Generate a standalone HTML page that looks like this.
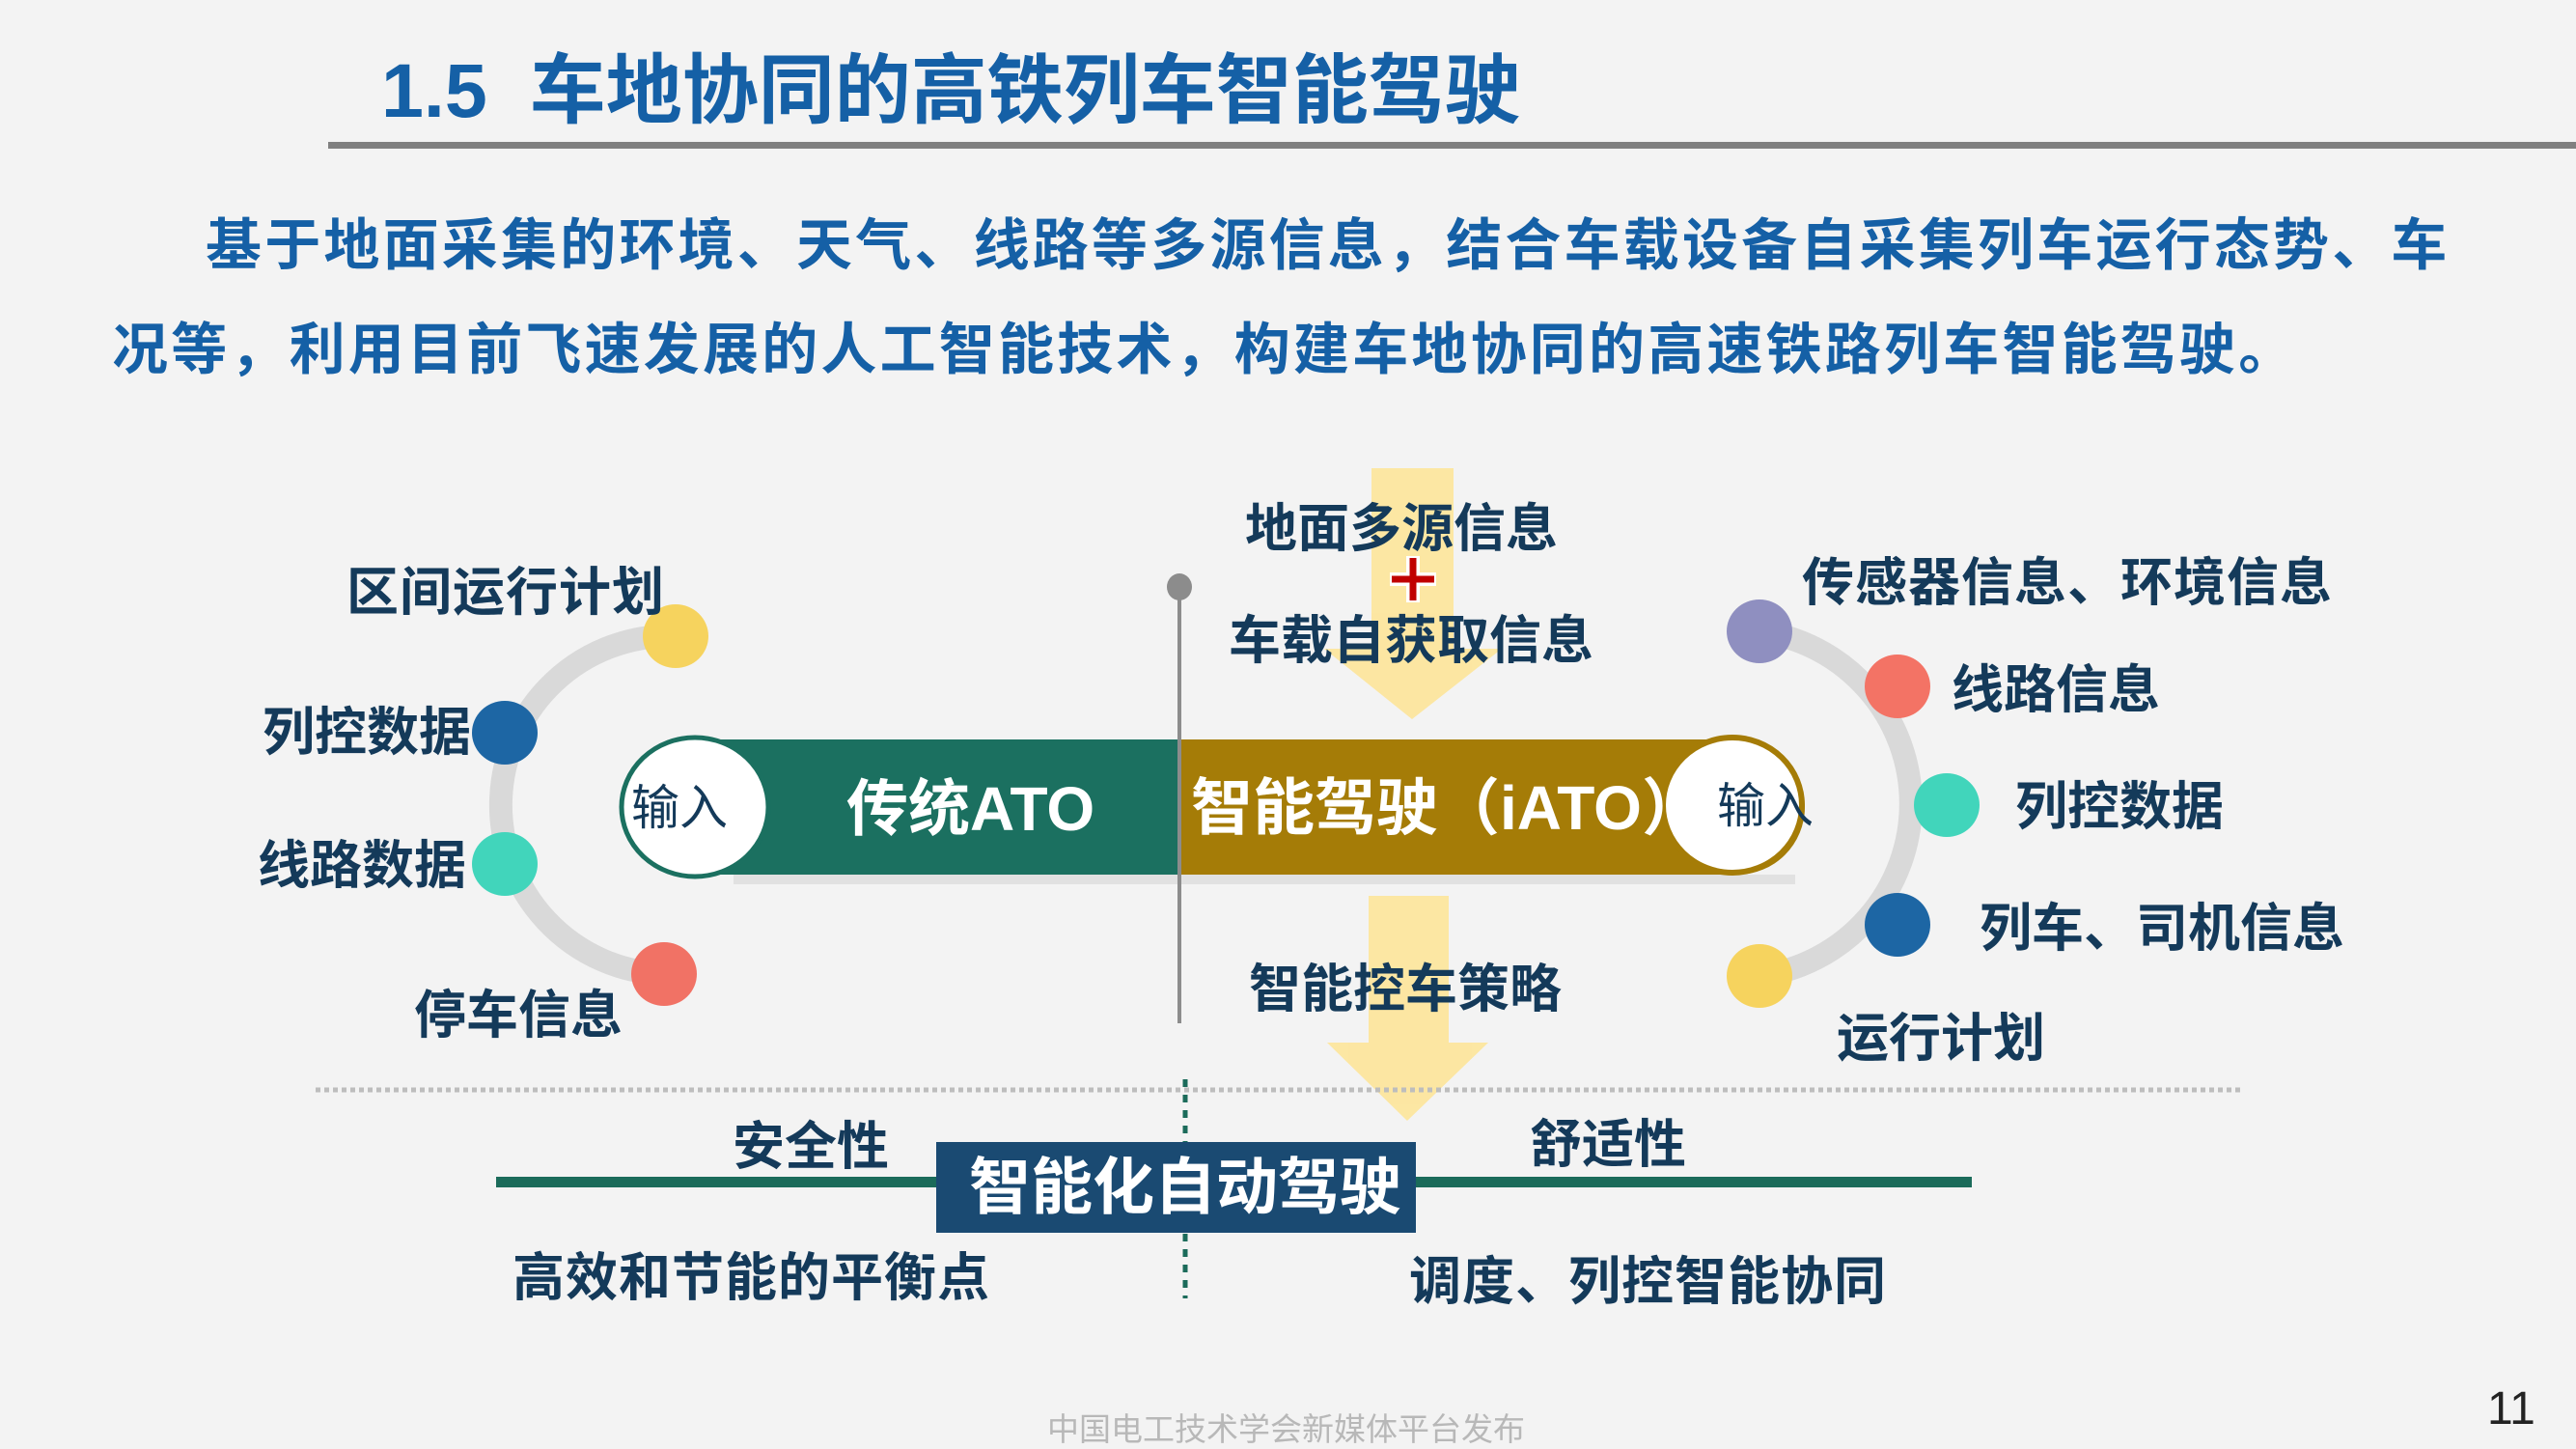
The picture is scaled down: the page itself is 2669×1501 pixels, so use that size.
<!DOCTYPE html>
<html><head><meta charset="utf-8">
<style>
html,body{margin:0;padding:0}
body{width:2669px;height:1501px;position:relative;overflow:hidden;background:#f3f3f3;font-family:"Liberation Sans","Noto Sans CJK SC",sans-serif}
.t{position:absolute;white-space:nowrap;line-height:1;font-weight:700;color:#143a5a}
svg{position:absolute;left:0;top:0}
</style></head><body>
<svg width="2669" height="1501">
<rect x="340" y="147" width="2329" height="7" fill="#808080"/>
<g fill="#fde59a" opacity="0.9">
<rect x="1421" y="485" width="85" height="190"/>
<polygon points="1372,672 1556,672 1463,745"/>
<rect x="1418" y="928" width="83" height="155"/>
<polygon points="1375,1080 1542,1080 1458,1161"/>
</g>
<path d="M700,659 A175,175 0 0 0 688,1009" fill="none" stroke="#d9d9d9" stroke-width="24"/>
<ellipse cx="700" cy="659" rx="34" ry="33" fill="#f6d35e"/>
<ellipse cx="523" cy="759" rx="34" ry="33" fill="#1d66a4"/>
<ellipse cx="523" cy="895" rx="34" ry="33" fill="#41d5bb"/>
<ellipse cx="688" cy="1009" rx="34" ry="33" fill="#f17265"/>
<path d="M1823,654 A180,180 0 0 1 1823,1011" fill="none" stroke="#d9d9d9" stroke-width="24"/>
<ellipse cx="1823" cy="654" rx="34" ry="33" fill="#8f8fc0"/>
<ellipse cx="1966" cy="711" rx="34" ry="33" fill="#f37365"/>
<ellipse cx="2017" cy="834" rx="34" ry="33" fill="#41d5bb"/>
<ellipse cx="1966" cy="958" rx="34" ry="33" fill="#1d66a4"/>
<ellipse cx="1823" cy="1011" rx="34" ry="33" fill="#f6d35e"/>
<rect x="760" y="906" width="1100" height="10" fill="#000" opacity="0.07"/>
<rect x="710" y="766" width="512" height="140" fill="#1b7060"/>
<path d="M1222,766 H1800 A70,70 0 0 1 1800,906 H1222 Z" fill="#a57c07"/>
<ellipse cx="720" cy="836" rx="76" ry="72" fill="#fff" stroke="#1b7060" stroke-width="5"/>
<ellipse cx="1795" cy="834" rx="72" ry="70" fill="#fff" stroke="#a57c07" stroke-width="6"/>
<rect x="1220" y="608" width="4" height="452" fill="#8c8c8c"/>
<ellipse cx="1222" cy="608" rx="13" ry="14" fill="#8c8c8c"/>
<g stroke="#fff" stroke-width="14"><line x1="1464" y1="576" x2="1464" y2="624"/><line x1="1440" y1="600" x2="1488" y2="600"/></g>
<g stroke="#c00000" stroke-width="7"><line x1="1464" y1="578" x2="1464" y2="622"/><line x1="1442" y1="600" x2="1486" y2="600"/></g>
<line x1="327" y1="1129" x2="2323" y2="1129" stroke="#bdbdbd" stroke-width="5" stroke-dasharray="5,4"/>
<line x1="1228" y1="1118" x2="1228" y2="1345" stroke="#1b6b5a" stroke-width="5" stroke-dasharray="8,8"/>
<rect x="514" y="1219" width="1529" height="11" fill="#1b6b5a"/>
<rect x="970" y="1183" width="497" height="94" fill="#1a4a72"/>
</svg>

<div class="t" style="left:395px;top:54px;font-size:79px;color:#1560a6">1.5&nbsp;&nbsp;车地协同的高铁列车智能驾驶</div>
<div class="t" style="left:213px;top:226px;font-size:58px;letter-spacing:3.2px;color:#1560a6">基于地面采集的环境、天气、线路等多源信息，结合车载设备自采集列车运行态势、车</div>
<div class="t" style="left:116px;top:334px;font-size:58px;letter-spacing:3.2px;color:#1560a6">况等，利用目前飞速发展的人工智能技术，构建车地协同的高速铁路列车智能驾驶。</div>

<div class="t" style="left:359px;top:587px;font-size:54px;letter-spacing:1px">区间运行计划</div>
<div class="t" style="left:272px;top:732px;font-size:54px">列控数据</div>
<div class="t" style="left:267px;top:870px;font-size:54px">线路数据</div>
<div class="t" style="left:429px;top:1025px;font-size:54px">停车信息</div>
<div class="t" style="left:1290px;top:521px;font-size:54px">地面多源信息</div>
<div class="t" style="left:1273px;top:637px;font-size:54px">车载自获取信息</div>
<div class="t" style="left:1294px;top:998px;font-size:54px">智能控车策略</div>
<div class="t" style="left:1867px;top:577px;font-size:54px;letter-spacing:1px">传感器信息、环境信息</div>
<div class="t" style="left:2022px;top:688px;font-size:54px">线路信息</div>
<div class="t" style="left:2088px;top:809px;font-size:54px">列控数据</div>
<div class="t" style="left:2051px;top:935px;font-size:54px">列车、司机信息</div>
<div class="t" style="left:1903px;top:1049px;font-size:54px">运行计划</div>
<div class="t" style="left:759px;top:1161px;font-size:54px">安全性</div>
<div class="t" style="left:1585px;top:1159px;font-size:54px">舒适性</div>
<div class="t" style="left:531px;top:1297px;font-size:54px;letter-spacing:1px">高效和节能的平衡点</div>
<div class="t" style="left:1460px;top:1301px;font-size:54px;letter-spacing:1px">调度、列控智能协同</div>
<div class="t" style="left:1004px;top:1198px;font-size:64px;color:#fff">智能化自动驾驶</div>
<div class="t" style="left:877px;top:806px;font-size:64px;color:#fff">传统ATO</div>
<div class="t" style="left:1234px;top:805px;font-size:64px;color:#fff">智能驾驶（iATO）</div>
<div class="t" style="left:654px;top:812px;font-size:50px;font-weight:400">输入</div>
<div class="t" style="left:1779px;top:810px;font-size:50px;font-weight:400">输入</div>
<div class="t" style="left:1085px;top:1464px;font-size:33px;font-weight:400;color:#b8b8b8">中国电工技术学会新媒体平台发布</div>
<div class="t" style="left:2577px;top:1436px;font-size:48px;font-weight:400;color:#222">11</div>
</body></html>
